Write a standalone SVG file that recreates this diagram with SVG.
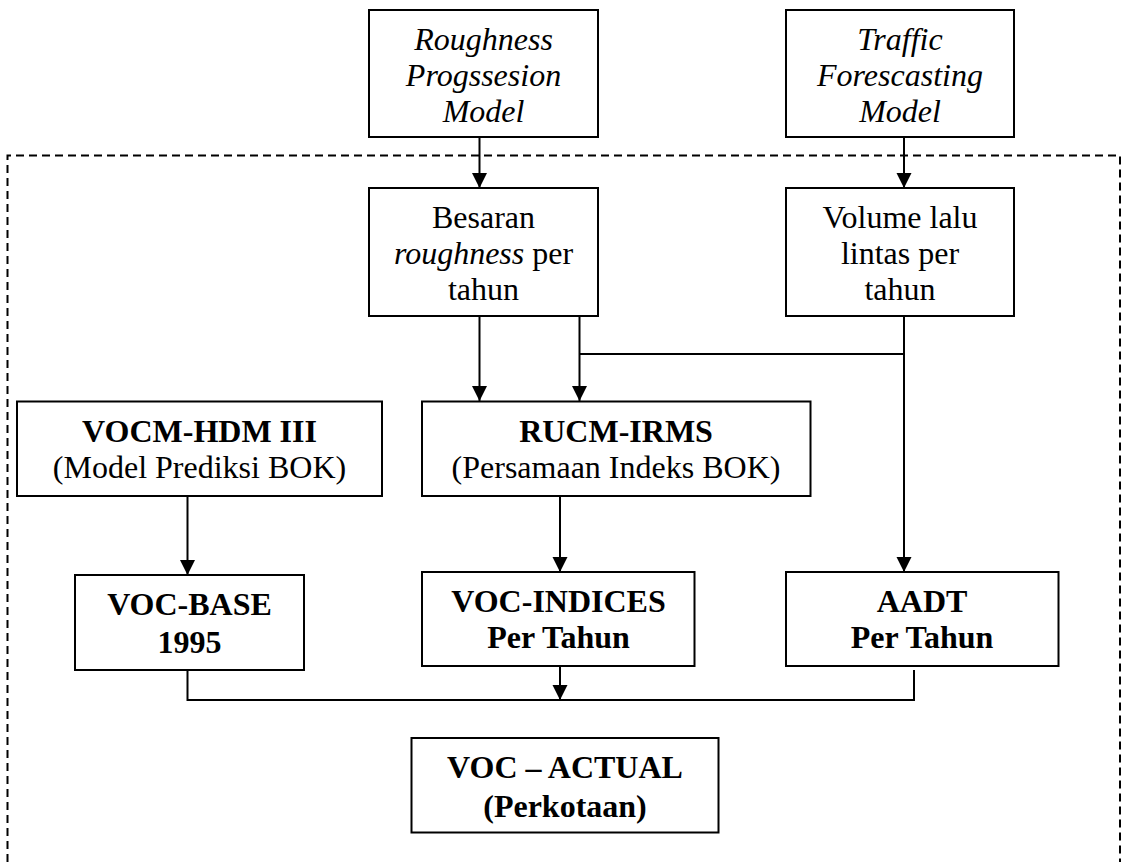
<svg xmlns="http://www.w3.org/2000/svg" width="1122" height="862" viewBox="0 0 1122 862">
<style>
  .box { fill: #fff; stroke: #000; stroke-width: 2; }
  .t { font-family: "Liberation Serif", "Times New Roman", serif; font-size: 32px; fill: #000; text-anchor: middle; }
  .i { font-style: italic; }
  .b { font-weight: bold; }
  .ln { fill: none; stroke: #000; stroke-width: 2; }
  .dash { fill: none; stroke: #000; stroke-width: 2; stroke-dasharray: 8 5; }
</style>
<defs>
  <marker id="arr" markerWidth="16" markerHeight="16" refX="15" refY="7.5" orient="auto" markerUnits="userSpaceOnUse">
    <path d="M0,0 L15,7.5 L0,15 Z" fill="#000"/>
  </marker>
</defs>
<rect width="1122" height="862" fill="#fff"/>
<g id="boundary">
  <path class="dash" d="M7.5,862 L7.5,155.5 L1120,155.5 L1120,862"/>
</g>
<g id="connectors">
  <line class="ln" x1="479.5" y1="137" x2="479.5" y2="188" marker-end="url(#arr)"/>
  <line class="ln" x1="904" y1="137" x2="904" y2="188" marker-end="url(#arr)"/>
  <line class="ln" x1="479.5" y1="316" x2="479.5" y2="401" marker-end="url(#arr)"/>
  <line class="ln" x1="579.5" y1="316" x2="579.5" y2="401" marker-end="url(#arr)"/>
  <line class="ln" x1="579.5" y1="354" x2="904" y2="354"/>
  <line class="ln" x1="904" y1="316" x2="904" y2="572" marker-end="url(#arr)"/>
  <line class="ln" x1="187.5" y1="496" x2="187.5" y2="575" marker-end="url(#arr)"/>
  <line class="ln" x1="560" y1="496" x2="560" y2="572" marker-end="url(#arr)"/>
  <line class="ln" x1="560" y1="666" x2="560" y2="700" marker-end="url(#arr)"/>
  <polyline class="ln" points="187.5,670 187.5,700 914,700 914,670"/>
</g>
<g id="roughness-model">
  <rect class="box" x="369" y="10" width="229" height="127"/>
  <text class="t i" x="483.5" y="50">Roughness</text>
  <text class="t i" x="483.5" y="86">Progssesion</text>
  <text class="t i" x="483.5" y="122">Model</text>
</g>
<g id="traffic-model">
  <rect class="box" x="786" y="10" width="228" height="127"/>
  <text class="t i" x="900" y="50">Traffic</text>
  <text class="t i" x="900" y="86">Forescasting</text>
  <text class="t i" x="900" y="122">Model</text>
</g>
<g id="besaran">
  <rect class="box" x="369" y="188" width="229" height="128"/>
  <text class="t" x="483.5" y="228">Besaran</text>
  <text class="t" x="483.5" y="264"><tspan class="i">roughness</tspan> per</text>
  <text class="t" x="483.5" y="300">tahun</text>
</g>
<g id="volume">
  <rect class="box" x="786" y="188" width="228" height="128"/>
  <text class="t" x="900" y="228">Volume lalu</text>
  <text class="t" x="900" y="264">lintas per</text>
  <text class="t" x="900" y="300">tahun</text>
</g>
<g id="vocm">
  <rect class="box" x="17" y="401.5" width="365" height="94.5"/>
  <text class="t b" x="199.5" y="442">VOCM-HDM III</text>
  <text class="t" x="199.5" y="478">(Model Prediksi BOK)</text>
</g>
<g id="rucm">
  <rect class="box" x="422" y="401.5" width="388.5" height="94.5"/>
  <text class="t b" x="616" y="442">RUCM-IRMS</text>
  <text class="t" x="616" y="478">(Persamaan Indeks BOK)</text>
</g>
<g id="voc-base">
  <rect class="box" x="75" y="575" width="229" height="95"/>
  <text class="t b" x="189.5" y="615">VOC-BASE</text>
  <text class="t b" x="189.5" y="653">1995</text>
</g>
<g id="voc-indices">
  <rect class="box" x="422" y="572" width="272.5" height="94"/>
  <text class="t b" x="558.5" y="612">VOC-INDICES</text>
  <text class="t b" x="558.5" y="648">Per Tahun</text>
</g>
<g id="aadt">
  <rect class="box" x="786" y="572" width="272.5" height="94"/>
  <text class="t b" x="922" y="612">AADT</text>
  <text class="t b" x="922" y="648">Per Tahun</text>
</g>
<g id="voc-actual">
  <rect class="box" x="411.5" y="738" width="307" height="94.5"/>
  <text class="t b" x="565" y="778">VOC – ACTUAL</text>
  <text class="t b" x="565" y="817">(Perkotaan)</text>
</g>
</svg>
